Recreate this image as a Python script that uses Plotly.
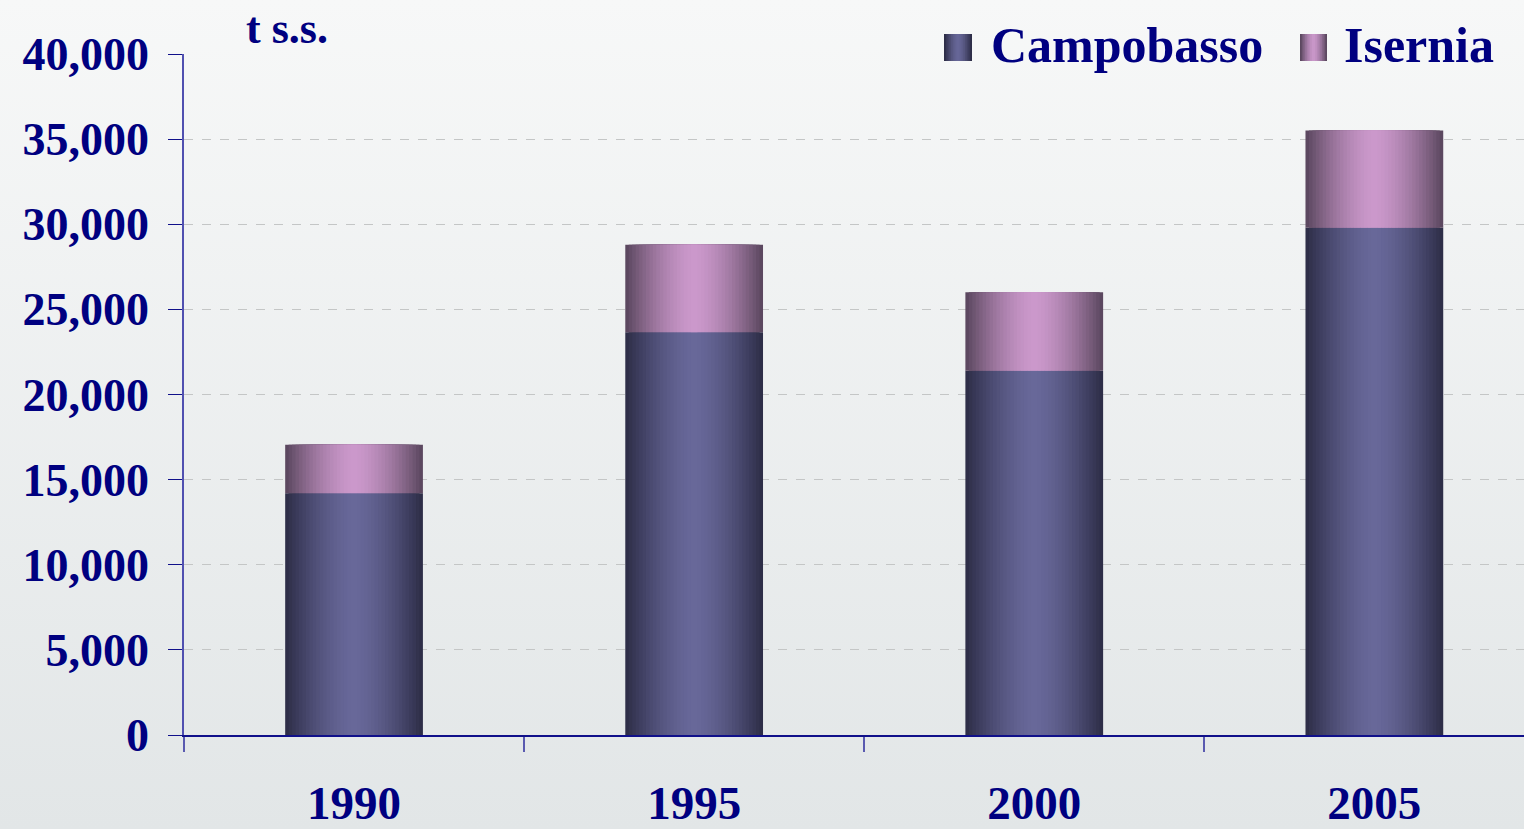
import base64
import plotly.graph_objects as go

years = ["1990", "1995", "2000", "2005"]
campobasso = [14200, 23650, 21400, 29800]
isernia = [2850, 5150, 4600, 5700]
series_names = ["Campobasso", "Isernia"]
y_ticks = [0, 5000, 10000, 15000, 20000, 25000, 30000, 35000, 40000]

FONT = "Liberation Serif"
NAVY = "#000080"

camp_edge, camp_center = (0x2e, 0x2e, 0x48), (0x68, 0x68, 0x9a)
isr_edge, isr_center = (0x5c, 0x48, 0x60), (0xcc, 0x99, 0xcc)

PL, PT, PW, PH = 184, 54, 1340, 681  # plot area in pixels


def lerp(a, b, t):
    return "rgb(%d,%d,%d)" % tuple(round(a[k] + (b[k] - a[k]) * t) for k in range(3))


def px(x):
    return (x - PL) / PW


def py(y):
    return 1 + (PT - y) / PH


fig = go.Figure()
N = 20
BW = 0.405
for i in range(N):
    f = 1 - i / N
    t = f ** 1.6
    w = BW * f
    fig.add_trace(go.Bar(x=years, y=campobasso, base=[0] * len(years), width=w,
                         marker=dict(color=lerp(camp_center, camp_edge, t), line=dict(width=0)),
                         showlegend=False, hoverinfo="skip", name=series_names[0]))
    fig.add_trace(go.Bar(x=years, y=isernia, base=campobasso, width=w,
                         marker=dict(color=lerp(isr_center, isr_edge, t), line=dict(width=0)),
                         showlegend=False, hoverinfo="skip", name=series_names[1]))

# legend drawn as shapes + annotations (large square swatches with gradient)
shapes = []
annotations = []
legend_items = [
    (series_names[0], 944, 972, 989, camp_edge, camp_center),
    (series_names[1], 1300, 1327, 1342, isr_edge, isr_center),
]
M = 8
for name, x0, x1, tx, edge, center in legend_items:
    cx = (x0 + x1) / 2
    hw = (x1 - x0) / 2
    for i in range(M):
        f = 1 - i / M
        shapes.append(dict(type="rect", xref="paper", yref="paper",
                           x0=px(cx - hw * f), x1=px(cx + hw * f), y0=py(61), y1=py(34),
                           fillcolor=lerp(center, edge, f ** 1.6), line=dict(width=0),
                           layer="above"))
    annotations.append(dict(text=name, xref="paper", yref="paper", x=px(tx), y=py(45),
                            showarrow=False, xanchor="left", yanchor="middle",
                            font=dict(family=FONT, size=50, color=NAVY, weight="bold")))

annotations.append(dict(text="t s.s.", xref="paper", yref="paper", x=px(287), y=py(29),
                        showarrow=False, xanchor="center", yanchor="middle",
                        font=dict(family=FONT, size=44, color=NAVY, weight="bold")))

svg = ('<svg xmlns="http://www.w3.org/2000/svg" width="100" height="100" preserveAspectRatio="none">'
       '<defs><linearGradient id="g" x1="0" y1="0" x2="0" y2="1">'
       '<stop offset="0" stop-color="#f7f8f8"/><stop offset="1" stop-color="#e2e6e7"/>'
       '</linearGradient></defs><rect width="100" height="100" fill="url(#g)"/></svg>')
src = "data:image/svg+xml;base64," + base64.b64encode(svg.encode()).decode()

fig.update_layout(
    width=1524, height=829,
    margin=dict(l=PL, r=0, t=PT, b=829 - PT - PH, autoexpand=False),
    barmode="overlay",
    paper_bgcolor="#ebeeee",
    plot_bgcolor="rgba(0,0,0,0)",
    font=dict(family=FONT, color=NAVY, size=46, weight="bold"),
    images=[dict(source=src, xref="paper", yref="paper", x=px(0), y=py(0),
                 sizex=1524 / PW, sizey=829 / PH, sizing="stretch", layer="below",
                 xanchor="left", yanchor="top")],
    shapes=shapes,
    annotations=annotations,
    showlegend=False,
)
fig.update_xaxes(type="category", range=[-0.5, 3.44], showline=True, linecolor="#10108a",
                 linewidth=2, ticks="outside", tickson="boundaries", ticklen=15,
                 tickcolor="#5a5ab0", tickwidth=2, showgrid=False, zeroline=False,
                 automargin=False, ticklabelstandoff=26, tickfont=dict(size=47))
fig.update_yaxes(range=[0, 40000], tickvals=y_ticks, tickformat=",", showline=True,
                 linecolor="#5050b0", linewidth=1.5, ticks="outside", ticklen=14,
                 tickcolor="#10108a", showgrid=True, gridcolor="#c4c6c6", griddash="dash",
                 gridwidth=1, zeroline=False, automargin=False, ticklabelstandoff=10,
                 tickfont=dict(size=46))

fig.write_html("out.html", config={"displayModeBar": False},
               post_script="document.body.style.margin='0';document.body.style.overflow='hidden';")
